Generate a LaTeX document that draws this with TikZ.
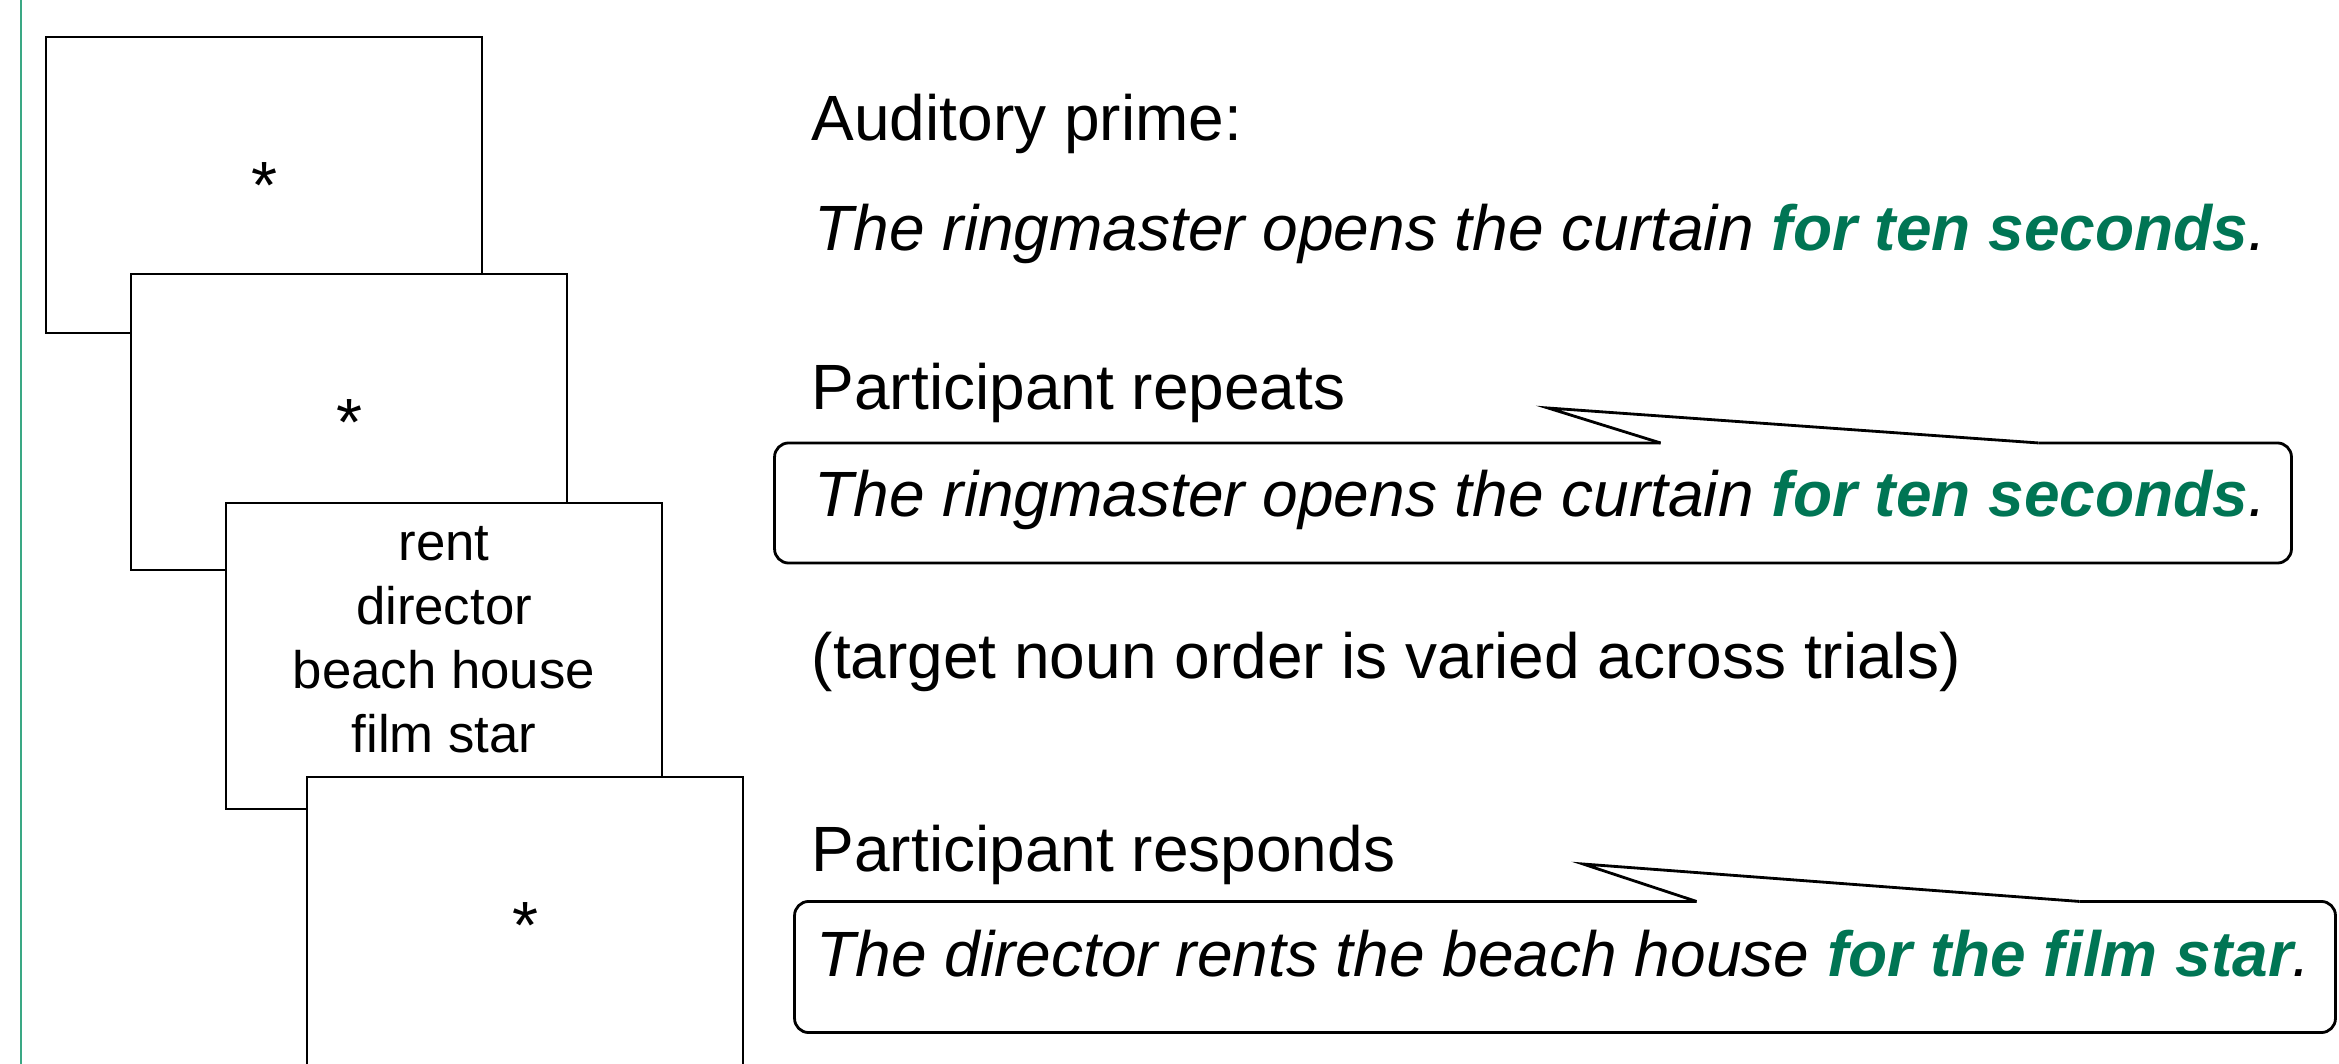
\documentclass[tikz,border=0pt]{standalone}
\usepackage{fontspec}
\setmainfont{Liberation Sans}
\usetikzlibrary{calc}
\definecolor{cuegreen}{RGB}{0,117,84}
\definecolor{railgreen}{RGB}{58,168,132}
\tikzset{
	card/.style={draw, line width=0.6pt, fill=white, inner sep=0pt, outer sep=0pt, minimum width=4.36cm, minimum height=2.96cm, font=\fontsize{19}{22}\selectfont, text height=0.46cm, text depth=0cm},
	say/.style={anchor=base west, inner sep=0pt, font=\fontsize{18.2}{22}\selectfont},
	frame/.style={inner sep=0pt, outer sep=0pt},
	bubble/.style={line width=0.8pt}
}
\newcommand{\hit}[1]{\textbf{\color{cuegreen}#1}}

\begin{document}
\begin{tikzpicture}[x=0.01cm, y=-0.01cm]
			%%%%% START %%%%%
			\useasboundingbox (0,0) rectangle (2339,1064);
			
			\draw[railgreen, line width=0.8pt] (21,0) -- (21,1064);
			
			\node[card] (card1) at (264,185) {*};
			\node[card] (card2) at (349,422) {*};
			\node[card, minimum height=3.06cm] (card3) at (444,656) {};
			\node[align=center, inner sep=0pt, font=\fontsize{15}{18.2}\selectfont] (nouns) at (444,640) {rent\\director\\beach house\\film star};
			\node[card] (card4) at (525,925) {*};
			
			\node[say] (prime) at (811,141) {Auditory prime:};
			\node[say] (heard) at (814,251) {\itshape The ringmaster opens the curtain \hit{for ten seconds}.};
			
			\node[say] (repeats) at (811,410) {Participant repeats};
			\node[frame, minimum width=15.16cm, minimum height=1.2cm] (echo) at (1533,503) {};
			\coordinate (echotip) at (1548,408);
			\draw[bubble, rounded corners=4pt] ($(echo.north west)+(886,0)$) -- (echo.north west) -- (echo.south west) -- (echo.south east) -- (echo.north east) -- ($(echo.north west)+(1264,0)$);
			\draw[bubble] ($(echo.north west)+(886,0)$) -- (echotip) -- ($(echo.north west)+(1264,0)$);
			\node[say] (echoline) at (814,517) {\itshape The ringmaster opens the curtain \hit{for ten seconds}.};
			
			\node[say] (order) at (811,678) {(target noun order is varied across trials)};
			
			\node[say] (responds) at (811,871) {Participant responds};
			\node[frame, minimum width=15.4cm, minimum height=1.31cm] (reply) at (1565,967) {};
			\coordinate (replytip) at (1583,864);
			\draw[bubble, rounded corners=4pt] ($(reply.north west)+(902,0)$) -- (reply.north west) -- (reply.south west) -- (reply.south east) -- (reply.north east) -- ($(reply.north west)+(1285,0)$);
			\draw[bubble] ($(reply.north west)+(902,0)$) -- (replytip) -- ($(reply.north west)+(1285,0)$);
			\node[say] (replyline) at (816,976) {\itshape The director rents the beach house \hit{for the film star}.};
			
			%%%%% END %%%%%
\end{tikzpicture}
\end{document}
